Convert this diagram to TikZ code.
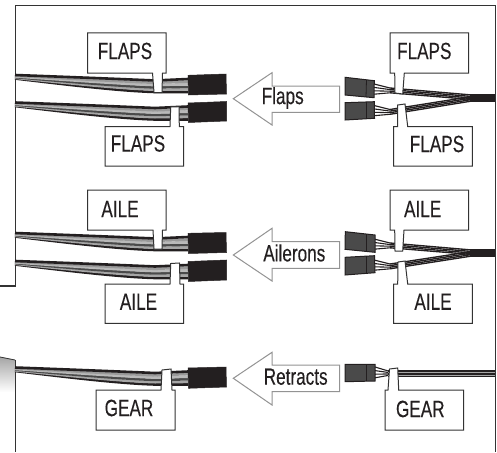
\documentclass[tikz,border=0pt]{standalone}
\usepackage{fontspec}
\newfontfamily\lblfont[FakeStretch=0.73,FakeBold=0.2]{Liberation Sans}
\definecolor{ink}{HTML}{333333}
\definecolor{plugdark}{HTML}{231F20}
\definecolor{plugmid}{HTML}{4A4A4A}
\tikzset{
  frameline/.style={draw=ink,line width=1.2pt},
  lblbox/.style={draw=ink,fill=white,line width=1pt,line join=miter},
  lbltxt/.style={font=\lblfont\fontsize{23.5}{24}\selectfont,text=plugdark,inner sep=0pt,anchor=center},
  arrowbox/.style={draw=gray!85,fill=white,line width=1pt},
  blackplug/.style={fill=plugdark,draw=plugdark,line width=.5pt},
  greyplug/.style={fill=plugmid,draw=plugdark,line width=1pt},
  strand/.style={line width=2.6pt,line cap=butt},
}
% left wire bundle, Y = top of the bundle at the frame
\newcommand{\leftwires}[1]{%
  \foreach \t/\c in {1/plugdark,.8/gray!70,.6/plugmid,.4/gray!55,.2/gray!80,0/plugdark}{%
    \draw[strand,draw=\c] (15,{#1+1+3.5*\t}) .. controls (70,{#1+3+8*\t}) and (120,{#1+5+12*\t}) .. (155,{#1+6.5+11.5*\t}) -- (188,{#1+5+13*\t});
  }%
}
% right wire fan: plug edge Y, bundle Y
\newcommand{\rightwires}[2]{%
  \foreach \i in {0,1,2,3}{%
    \draw[line width=1.1pt,draw=plugdark] (374,{#1+\i*3.4}) -- (390,{#1+4+\i*1.6});
    \draw[line width=1.35pt,draw=plugdark] (390,{#1+4+\i*1.6}) -- (472,{#2+\i*1.5});
  }%
  \fill[plugdark] (470,#2-.6) rectangle (495,#2+5.5);
}
\begin{document}
\begin{tikzpicture}[x=1pt,y=-1pt]
\useasboundingbox (0,0) rectangle (497,452);
% gradient stub and frame
\shade[top color=gray!70,bottom color=white] (0,357) -- (15,360) -- (15,392) -- (0,392) -- cycle;
\draw[frameline,line width=.8pt] (0,357) -- (15,360);
\draw[frameline] (0,286) -- (15.3,286) -- (15.3,5.3) -- (495.5,5.3) -- (495.5,452);
\draw[frameline] (15.3,360) -- (15.3,452);
% left wires
\leftwires{74}
\leftwires{101.5}
\leftwires{232}
\leftwires{260}
\leftwires{366.5}
% left plugs
\fill[blackplug] (188,75.3) -- (226,74) -- (226.5,94) -- (188.5,95) -- cycle;
\fill[blackplug] (188,103) -- (226.5,101.5) -- (226.5,121) -- (188.5,122.5) -- cycle;
\fill[blackplug] (188,233.3) -- (226,232.5) -- (226.5,252.5) -- (188.5,253.5) -- cycle;
\fill[blackplug] (188,261.5) -- (226.5,260) -- (226.5,280) -- (188.5,281.5) -- cycle;
\fill[blackplug] (188,368) -- (226,367) -- (226.5,387) -- (188.5,388.3) -- cycle;
% right wires
\rightwires{84}{95}
\rightwires{105.5}{96.5}
\rightwires{239}{250}
\rightwires{260}{251.5}
\foreach \i in {0,1,2,3}{
  \draw[line width=1.1pt,draw=plugdark] (375,{367+\i*3.6}) -- (390,{371.5+\i*1.2});
}
\fill[plugdark] (388,369.8) rectangle (495,377.4);
\draw[gray!70,line width=.35pt] (388,372.4) -- (495,372.4);
\draw[gray!70,line width=.35pt] (388,375) -- (495,375);
% right plugs
\filldraw[greyplug] (345,77.3) -- (374.3,80.7) -- (374,97.7) -- (345,95) -- cycle;
\draw[plugdark,line width=.8pt] (366.5,79.8) -- (366,97);
\filldraw[greyplug] (345,102.7) -- (374.3,101.7) -- (374.5,118.3) -- (345,120) -- cycle;
\draw[plugdark,line width=.8pt] (366.5,102) -- (366.5,118.8);
\filldraw[greyplug] (345.3,231.7) -- (375,235) -- (375,252.3) -- (345,249.3) -- cycle;
\draw[plugdark,line width=.8pt] (366.5,234) -- (366.5,251.5);
\filldraw[greyplug] (345,257.3) -- (374.5,255.7) -- (375,272.7) -- (345,275) -- cycle;
\draw[plugdark,line width=.8pt] (366.5,256.2) -- (366.5,273.2);
\filldraw[greyplug] (345,364.3) -- (375,364.3) -- (375,381) -- (345,381.7) -- cycle;
\draw[plugdark,line width=.8pt] (366,364.3) -- (366,381.2);
% arrows
\draw[arrowbox] (233.3,98.7) -- (272,72.7) -- (272,86) -- (339.7,86) -- (339.7,112.3) -- (272,112.3) -- (272,125) -- cycle;
\node[lbltxt] (arrflaps) at (282.7,98) {Flaps};
\draw[arrowbox] (233.3,255) -- (272,228.3) -- (272,241.7) -- (339.7,241.7) -- (339.7,268.3) -- (272,268.3) -- (272,281) -- cycle;
\node[lbltxt] (arrail) at (294.3,253) {Ailerons};
\draw[arrowbox] (233.3,378.3) -- (272,352.3) -- (272,365) -- (339.7,365) -- (339.7,391.7) -- (272,391.7) -- (272,405) -- cycle;
\node[lbltxt] (arrret) at (295.7,376.7) {Retracts};
% labels
\draw[lblbox] (87.5,33) -- (166,33) -- (166,73) -- (162.5,73) -- (162,92.5) -- (154,92.5) -- (152.5,73) -- (87.5,73) -- cycle;
\node[lbltxt] (fl1) at (125,51) {FLAPS};
\draw[lblbox] (105,126.5) -- (170,126.5) -- (170.7,107) -- (179,106.7) -- (179.3,126.5) -- (183.5,126.5) -- (183.5,166) -- (105,166) -- cycle;
\node[lbltxt] (fl2) at (138,143.5) {FLAPS};
\draw[lblbox] (390,33) -- (468.7,33) -- (468.7,73) -- (404.3,73) -- (402.7,94) -- (395,93) -- (394.7,73) -- (390,73) -- cycle;
\node[lbltxt] (fr1) at (424.3,51) {FLAPS};
\draw[lblbox] (393.7,126.5) -- (397.7,126.5) -- (397.7,105) -- (405,104) -- (407.7,126.5) -- (472.3,126.5) -- (472.3,166) -- (393.7,166) -- cycle;
\node[lbltxt] (fr2) at (437,144) {FLAPS};
\draw[lblbox] (87.5,190) -- (166,190) -- (166,230) -- (162.5,230) -- (162,249) -- (154,249) -- (153,230) -- (87.5,230) -- cycle;
\node[lbltxt] (al1) at (120,209) {AILE};
\draw[lblbox] (105,284) -- (170,284) -- (170.7,263.5) -- (179.5,263) -- (180,284) -- (183.5,284) -- (183.5,323.3) -- (105,323.3) -- cycle;
\node[lbltxt] (al2) at (138.5,301.7) {AILE};
\draw[lblbox] (390,190) -- (468.7,190) -- (468.7,230) -- (404,230) -- (402.7,251) -- (395,251) -- (394.7,230) -- (390,230) -- cycle;
\node[lbltxt] (ar1) at (422.7,209) {AILE};
\draw[lblbox] (393.7,284) -- (397.7,284) -- (398,262) -- (405,261) -- (407.7,284) -- (472.3,284) -- (472.3,323.3) -- (393.7,323.3) -- cycle;
\node[lbltxt] (ar2) at (433,301.7) {AILE};
\draw[lblbox] (96,390) -- (161,390) -- (162,370) -- (171,369) -- (172,390) -- (175,390) -- (175,430) -- (96,430) -- cycle;
\node[lbltxt] (gl) at (129,408) {GEAR};
\draw[lblbox] (385,390) -- (388,390) -- (389.5,369) -- (397.7,368) -- (398.7,390) -- (463.7,390) -- (463.7,430) -- (385,430) -- cycle;
\node[lbltxt] (gr) at (420.3,409) {GEAR};
\end{tikzpicture}
\end{document}
